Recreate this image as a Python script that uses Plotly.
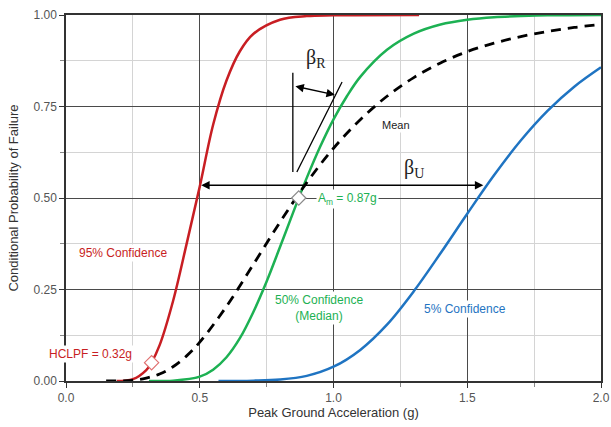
import plotly.graph_objects as go

# ---- data ----
red_x = [0.19, 0.25, 0.30, 0.32, 0.35, 0.40, 0.45, 0.50, 0.55, 0.60, 0.65, 0.70, 0.80, 0.90, 1.00, 1.32]
red_y = [0.000, 0.005, 0.030, 0.051, 0.098, 0.218, 0.372, 0.531, 0.700, 0.821, 0.901, 0.948, 0.987, 0.997, 0.999, 1.000]

green_x = [0.31, 0.40, 0.50, 0.55, 0.60, 0.65, 0.70, 0.75, 0.80, 0.85, 0.87, 0.90, 0.95, 1.00, 1.05, 1.10,
           1.20, 1.30, 1.40, 1.50, 1.60, 1.70, 1.80, 2.00]
green_y = [0.000, 0.001, 0.012, 0.031, 0.065, 0.117, 0.188, 0.272, 0.366, 0.462, 0.500, 0.555, 0.640, 0.715,
           0.778, 0.831, 0.905, 0.949, 0.974, 0.987, 0.994, 0.997, 0.999, 1.000]

blue_x = [0.57, 0.70, 0.80, 0.90, 1.00, 1.10, 1.20, 1.30, 1.40, 1.50, 1.60, 1.70, 1.80, 1.90, 2.00]
blue_y = [0.000, 0.001, 0.004, 0.014, 0.039, 0.085, 0.154, 0.245, 0.349, 0.457, 0.562, 0.657, 0.738, 0.804, 0.857]

mean_x = [0.15, 0.25, 0.30, 0.35, 0.40, 0.45, 0.50, 0.60, 0.70, 0.80, 0.90, 1.00, 1.10, 1.20, 1.30, 1.40,
          1.50, 1.60, 1.70, 1.80, 1.90, 2.00]
mean_y = [0.000, 0.002, 0.008, 0.019, 0.039, 0.068, 0.106, 0.204, 0.318, 0.434, 0.542, 0.636, 0.714, 0.778,
          0.829, 0.869, 0.900, 0.923, 0.941, 0.955, 0.966, 0.974]

am_point = (0.87, 0.50)
hclpf_point = (0.32, 0.05)

x_ticks = [0.0, 0.5, 1.0, 1.5, 2.0]
y_ticks = [0.00, 0.25, 0.50, 0.75, 1.00]

RED = "#c81e23"
GREEN = "#1db153"
BLUE = "#1f74c2"
FONT = "Liberation Sans, Arial, sans-serif"

fig = go.Figure()
fig.add_trace(go.Scatter(x=red_x, y=red_y, mode="lines", line=dict(color=RED, width=2.5, shape="spline"),
                         hoverinfo="skip"))
fig.add_trace(go.Scatter(x=green_x, y=green_y, mode="lines", line=dict(color=GREEN, width=2.5, shape="spline"),
                         hoverinfo="skip"))
fig.add_trace(go.Scatter(x=blue_x, y=blue_y, mode="lines", line=dict(color=BLUE, width=2.5, shape="spline"),
                         hoverinfo="skip"))
fig.add_trace(go.Scatter(x=mean_x, y=mean_y, mode="lines",
                         line=dict(color="black", width=2.8, dash="10px,7px", shape="spline"),
                         hoverinfo="skip"))
fig.add_trace(go.Scatter(x=[am_point[0]], y=[am_point[1]], mode="markers",
                         marker=dict(symbol="diamond", size=11, color="white",
                                     line=dict(color="#8a8a8a", width=1.2)), hoverinfo="skip"))
fig.add_trace(go.Scatter(x=[hclpf_point[0]], y=[hclpf_point[1]], mode="markers",
                         marker=dict(symbol="diamond", size=11, color="white",
                                     line=dict(color="#e07070", width=1.2)), hoverinfo="skip"))

# beta_R construction lines
fig.add_shape(type="line", x0=0.848, y0=0.571, x1=0.848, y1=0.842, line=dict(color="black", width=1.3))
fig.add_shape(type="line", x0=0.863, y0=0.571, x1=1.032, y1=0.817, line=dict(color="black", width=1.3))

# double arrows
fig.add_annotation(x=1.005, y=0.782, ax=0.852, ay=0.806, xref="x", yref="y", axref="x", ayref="y",
                   text="", showarrow=True, arrowhead=2, arrowsize=1.2, arrowwidth=1.4,
                   arrowside="end+start", arrowcolor="black")
fig.add_annotation(x=1.56, y=0.535, ax=0.50, ay=0.535, xref="x", yref="y", axref="x", ayref="y",
                   text="", showarrow=True, arrowhead=2, arrowsize=1.2, arrowwidth=1.4,
                   arrowside="end+start", arrowcolor="black")

# text labels
fig.add_annotation(x=0.935, y=0.88, text="β<sub>R</sub>", showarrow=False,
                   font=dict(family="Liberation Serif, Times New Roman, serif", size=20, color="#222"))
fig.add_annotation(x=1.30, y=0.58, text="β<sub>U</sub>", showarrow=False, bgcolor="white",
                   font=dict(family="Liberation Serif, Times New Roman, serif", size=20, color="#222"))
fig.add_annotation(x=1.235, y=0.699, text="Mean", showarrow=False, bgcolor="white",
                   font=dict(family=FONT, size=11, color="#222"))
fig.add_annotation(x=0.935, y=0.497, text="A<sub>m</sub> = 0.87g", showarrow=False, xanchor="left",
                   bgcolor="white", borderpad=1, font=dict(family=FONT, size=12, color=GREEN))
fig.add_annotation(x=0.213, y=0.35, text="95% Confidence", showarrow=False, bgcolor="white",
                   font=dict(family=FONT, size=12, color=RED))
fig.add_annotation(x=0.09, y=0.075, text="HCLPF = 0.32g", showarrow=False, bgcolor="white",
                   font=dict(family=FONT, size=12, color=RED))
fig.add_annotation(x=0.945, y=0.20, text="50% Confidence<br>(Median)", showarrow=False, bgcolor="white",
                   font=dict(family=FONT, size=12, color=GREEN))
fig.add_annotation(x=1.49, y=0.198, text="5% Confidence", showarrow=False, bgcolor="white",
                   font=dict(family=FONT, size=12, color=BLUE))

axis_common = dict(showline=True, linecolor="#333", linewidth=1.5, mirror=True, ticks="outside",
                   ticklen=5, tickcolor="#333", tickwidth=1.2, gridcolor="#4a4a4a", gridwidth=1.2,
                   zeroline=False, automargin=False, tickfont=dict(family=FONT, size=12, color="#555"),
                   title_font=dict(family=FONT, size=13, color="#333"))

fig.update_xaxes(range=[0, 2], tickvals=x_ticks, tickformat=".1f",
                 minor=dict(dtick=0.25, showgrid=True, gridcolor="#d4d4d4", gridwidth=1,
                            ticks="outside", ticklen=4, tickcolor="#888"),
                 title_text="Peak Ground Acceleration (g)", title_standoff=3, **axis_common)
fig.update_yaxes(range=[0, 1], tickvals=y_ticks, tickformat=".2f",
                 minor=dict(dtick=0.125, showgrid=True, gridcolor="#d4d4d4", gridwidth=1,
                            ticks="outside", ticklen=4, tickcolor="#888"),
                 title_text="Conditional Probability of Failure", title_standoff=12, **axis_common)

fig.update_layout(width=611, height=427, margin=dict(l=66, r=10, t=15, b=46),
                  plot_bgcolor="white", paper_bgcolor="white", showlegend=False,
                  font=dict(family=FONT))

fig.write_html("out.html", config={"displayModeBar": False},
               post_script="document.body.style.margin='0';")
